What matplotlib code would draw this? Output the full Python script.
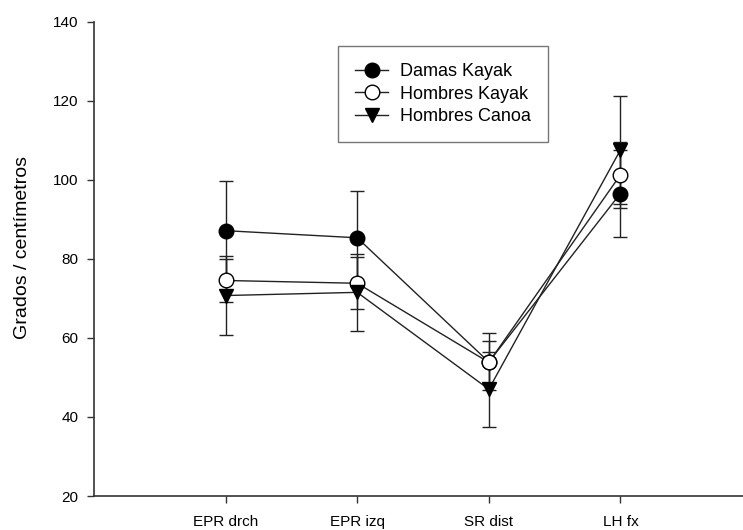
import matplotlib.pyplot as plt

plt.rcParams['font.family'] = ['Liberation Sans', 'DejaVu Sans']

# data
categories = ['EPR drch', 'EPR izq', 'SR dist', 'LH fx']
x_pos = [1, 2, 3, 4]

damas_kayak = [87.1, 85.3, 53.9, 96.5]
damas_kayak_err = [12.5, 11.9, 7.2, 10.9]

hombres_kayak = [74.5, 73.8, 53.8, 101.2]
hombres_kayak_err = [5.4, 6.6, 5.3, 8.4]

hombres_canoa = [70.7, 71.5, 47.0, 107.5]
hombres_canoa_err = [9.9, 9.8, 9.5, 13.7]

series = [
    ('Damas Kayak', damas_kayak, damas_kayak_err, 'o', 'black'),
    ('Hombres Kayak', hombres_kayak, hombres_kayak_err, 'o', 'white'),
    ('Hombres Canoa', hombres_canoa, hombres_canoa_err, 'v', 'black'),
]

fig = plt.figure(figsize=(7.43, 5.30), dpi=100)
ax = fig.add_axes([94 / 743, 34 / 530, 658 / 743, 474.5 / 530])

for label, vals, errs, marker, face in series:
    ax.errorbar(x_pos, vals, yerr=errs, label=label, color='#222222',
                marker=marker, markersize=10.5, markerfacecolor=face,
                markeredgecolor='black', markeredgewidth=1.0,
                linewidth=1.0, elinewidth=1.0, capsize=5, capthick=1.0)

ax.set_xlim(0, 5)
ax.set_ylim(20, 140)
ax.set_yticks([20, 40, 60, 80, 100, 120, 140])
ax.set_xticks(x_pos)
ax.set_xticklabels(categories)
ax.set_ylabel('Grados / centímetros', fontsize=14)
ax.yaxis.set_label_coords(-0.095, 0.523)

for side in ['top', 'right']:
    ax.spines[side].set_visible(False)
for side in ['left', 'bottom']:
    ax.spines[side].set_color('#333333')
    ax.spines[side].set_linewidth(1.2)
ax.tick_params(axis='both', direction='out', length=5, width=1, color='#333333',
               labelsize=11, pad=6)
ax.tick_params(axis='x', pad=9)

handles, labels = ax.get_legend_handles_labels()
handles = [h[0] for h in handles]
leg = ax.legend(handles, labels, loc='upper left', bbox_to_anchor=(0.371, 0.948),
                fontsize=13, frameon=True, fancybox=False, handlelength=1.8,
                borderpad=0.95, labelspacing=0.3, handletextpad=0.65,
                borderaxespad=0)
leg.get_frame().set_edgecolor('#555555')
leg.get_frame().set_linewidth(1.0)

fig.savefig('out.png', dpi=100)
